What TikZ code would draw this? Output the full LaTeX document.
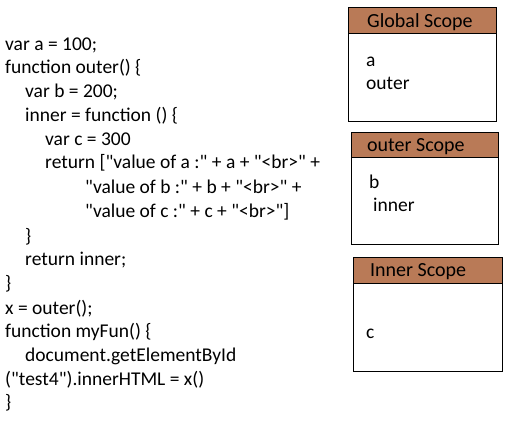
\documentclass[tikz,border=0pt]{standalone}
\usepackage{fontspec}
\newfontfamily\calfont{Carlito}
\definecolor{hdr}{RGB}{185,122,87}
\begin{document}
\begin{tikzpicture}[x=1pt,y=-1pt,
  code/.style={anchor=base west,inner sep=0pt,font=\calfont\fontsize{19.5}{24}\selectfont},
  lbl/.style={anchor=base west,inner sep=0pt,font=\calfont\fontsize{19.5}{24}\selectfont},
  hlbl/.style={anchor=base west,inner sep=0pt,font=\calfont\fontsize{20}{24}\selectfont},
  box/.style={draw=black,line width=1pt,fill=white,inner sep=0pt},
  head/.style={draw=black,line width=1pt,fill=hdr,inner sep=0pt}]
\useasboundingbox (0,0) rectangle (512,426);
% code
\node[code] (c1) at (5,50) {var a = 100;};
\node[code] (c2) at (5,73) {function outer() \{};
\node[code] (c3) at (25,97) {var b = 200;};
\node[code] (c4) at (25,121) {inner = function () \{};
\node[code] (c5) at (45,145) {var c = 300};
\node[code] (c6) at (45,168) {return ["value of a :" + a + "<br>" +};
\node[code] (c7) at (85,193) {"value of b :" + b + "<br>" +};
\node[code] (c8) at (85,217) {"value of c :" + c + "<br>"]};
\node[code] (c9) at (25,242) {\}};
\node[code] (c10) at (25,265) {return inner;};
\node[code] (c11) at (5,289) {\}};
\node[code] (c12) at (5,314) {x = outer();};
\node[code] (c13) at (5,337) {function myFun() \{};
\node[code] (c14) at (25,361) {document.getElementById};
\node[code] (c15) at (5,385) {("test4").innerHTML = x()};
\node[code] (c16) at (5,408) {\}};
% Global scope
\node[box,anchor=north west,minimum width=148pt,minimum height=114pt] (gb) at (348,7) {};
\node[head,anchor=north west,minimum width=148pt,minimum height=26pt] (gh) at (348,7) {};
\node[hlbl] (gt) at (367,27) {Global Scope};
\node[lbl] (ga) at (366,66) {a};
\node[lbl] (go) at (366,89) {outer};
% outer scope
\node[box,anchor=north west,minimum width=147pt,minimum height=112pt] (ob) at (351,132) {};
\node[head,anchor=north west,minimum width=147pt,minimum height=25pt] (oh) at (351,132) {};
\node[hlbl] (ot) at (367,151) {outer Scope};
\node[lbl] (obv) at (369,188) {b};
\node[lbl] (oi) at (373,211) {inner};
% inner scope
\node[box,anchor=north west,minimum width=149pt,minimum height=114pt] (ib) at (353,257) {};
\node[head,anchor=north west,minimum width=149pt,minimum height=26pt] (ih) at (353,257) {};
\node[hlbl] (it) at (370,276) {Inner Scope};
\node[lbl] (ic) at (366,338) {c};
\end{tikzpicture}
\end{document}
